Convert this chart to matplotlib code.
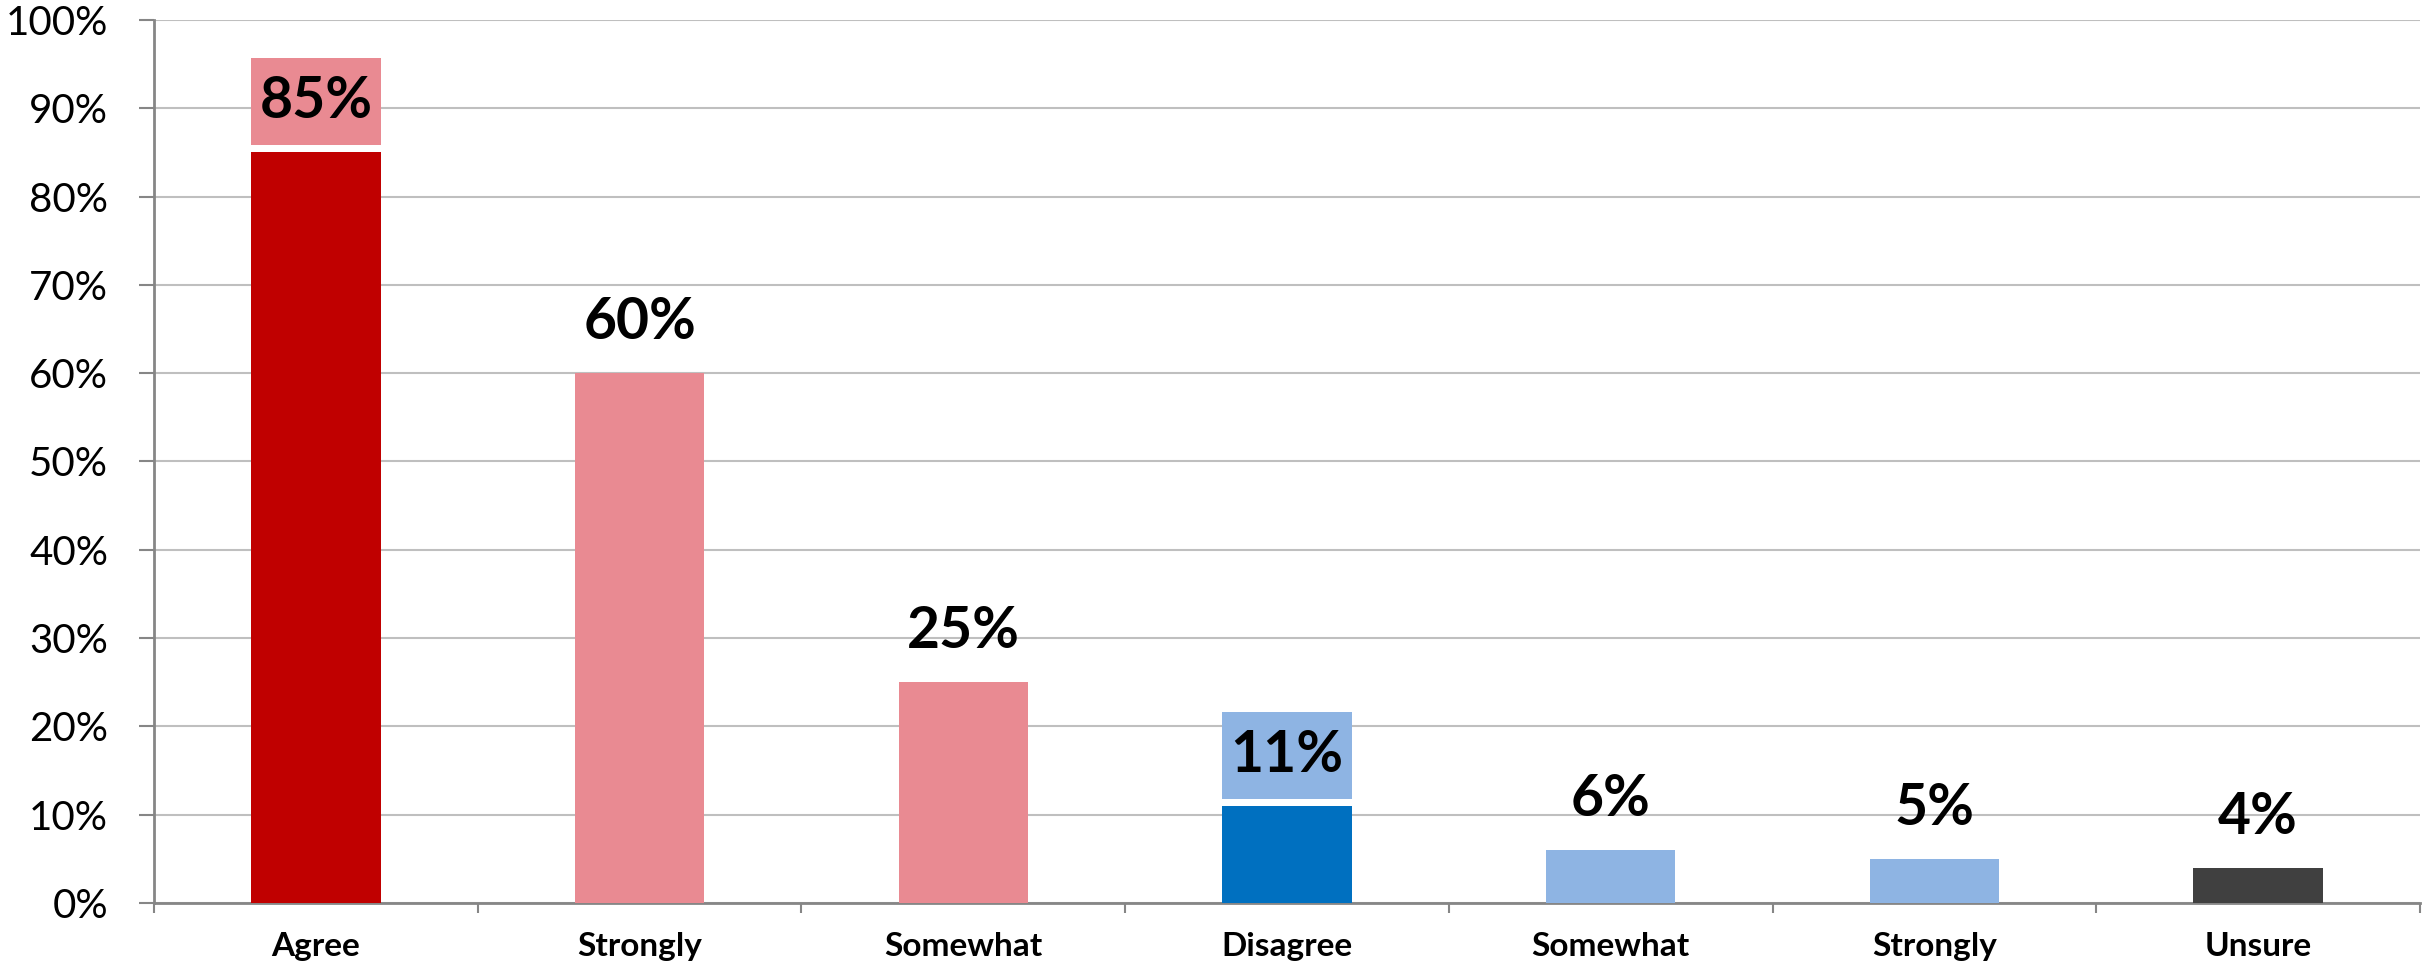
import matplotlib
matplotlib.use("Agg")
import matplotlib.pyplot as plt
from matplotlib.ticker import FuncFormatter, MultipleLocator, FixedLocator

categories = ["Agree", "Strongly", "Somewhat", "Disagree", "Somewhat", "Strongly", "Unsure"]
values = [0.85, 0.60, 0.25, 0.11, 0.06, 0.05, 0.04]
labels = ["85%", "60%", "25%", "11%", "6%", "5%", "4%"]
colors = ["#C00000", "#E98A92", "#E98A92", "#0070C0", "#8EB4E3", "#8EB4E3", "#404040"]
boxed = [True, False, False, True, False, False, False]
box_colors = ["#E98A92", None, None, "#8EB4E3", None, None, None]

plt.rcParams['font.family'] = ['Lato', 'DejaVu Sans']

W, H, DPI = 2423, 967, 100
fig = plt.figure(figsize=(W / DPI, H / DPI), dpi=DPI)
ax = fig.add_axes([154 / W, (H - 903) / H, (2420 - 154) / W, (903 - 20) / H])

x = list(range(len(categories)))
bar_w = 0.40
ax.bar(x, values, width=bar_w, color=colors, zorder=3)

gap = 0.008
box_h = 0.0985
for xi, v, lab, b, bc in zip(x, values, labels, boxed, box_colors):
    if b:
        ax.bar(xi, box_h, bottom=v + gap, width=bar_w, color=bc, zorder=3)
    ax.text(xi, v + gap + box_h / 2, lab, ha='center', va='center',
            fontsize=41, fontweight='bold', color='black', zorder=4)

ax.set_xlim(-0.5, len(categories) - 0.5)
ax.set_ylim(0, 1.0)
ax.yaxis.set_major_locator(MultipleLocator(0.1))
ax.yaxis.set_major_formatter(FuncFormatter(lambda v, p: f"{v*100:.0f}%"))
ax.grid(axis='y', color='#BFBFBF', linewidth=1.5, zorder=0)
ax.set_axisbelow(True)

ax.set_xticks(x)
ax.set_xticklabels(categories, fontsize=24, fontweight='bold')
ax.xaxis.set_minor_locator(FixedLocator([i - 0.5 for i in range(len(categories) + 1)]))
ax.tick_params(axis='x', which='major', length=0, pad=21)
ax.tick_params(axis='x', which='minor', length=7, width=1.5, color='#868686', direction='out')
ax.tick_params(axis='y', which='major', length=11, width=1.5, color='#868686',
               labelsize=29, pad=22, direction='out')

for s in ['top', 'right']:
    ax.spines[s].set_visible(False)
for s in ['left', 'bottom']:
    ax.spines[s].set_color('#868686')
    ax.spines[s].set_linewidth(2)

fig.savefig("out.png", dpi=DPI)
